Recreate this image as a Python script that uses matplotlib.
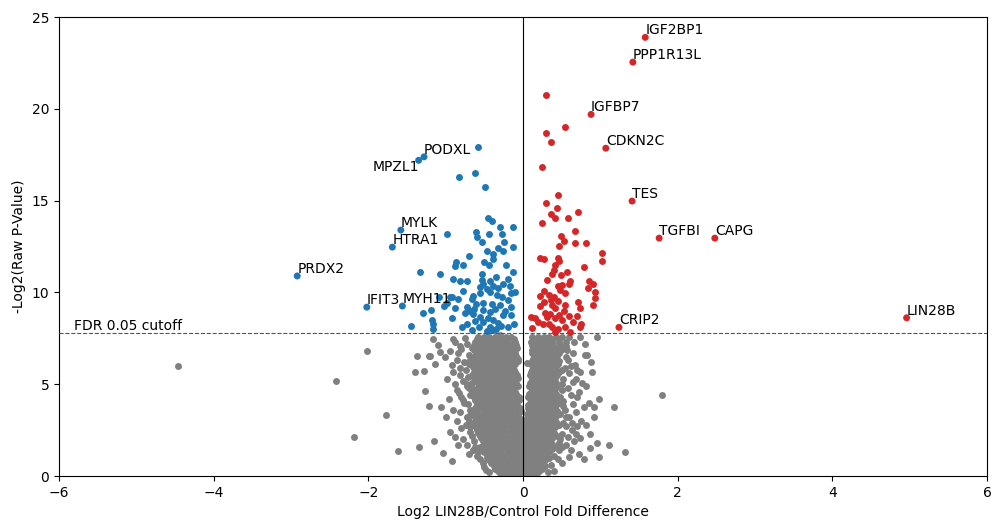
import matplotlib
matplotlib.use("Agg")
import matplotlib.pyplot as plt

# ---------------- data ----------------
fdr_cutoff = 7.8

label_names = ["IGF2BP1", "PPP1R13L", "IGFBP7", "CDKN2C", "TES", "TGFBI", "CAPG",
               "CRIP2", "LIN28B", "PODXL", "MPZL1", "MYLK", "HTRA1", "PRDX2",
               "IFIT3", "MYH11"]
label_x = [1.58, 1.42, 0.88, 1.07, 1.41, 1.76, 2.48, 1.24, 4.96, -1.28, -1.35,
           -1.58, -1.69, -2.92, -2.02, -1.56]
label_y = [23.9, 22.55, 19.7, 17.86, 14.98, 12.96, 12.96, 8.1, 8.62, 17.39, 17.2,
           13.4, 12.47, 10.9, 9.2, 9.26]
label_up = [True, True, True, True, True, True, True, True, True, True, False,
            True, True, True, True, True]

blue_pts = [(-0.58, 17.9), (-0.62, 16.5), (-0.83, 16.3), (-0.49, 15.74), (-0.45, 14.05),
            (-0.40, 13.9), (-0.44, 13.2), (-0.61, 13.3), (-0.30, 13.55), (-0.27, 13.2),
            (-0.13, 13.55), (-0.98, 13.2), (-0.59, 13.0), (-0.53, 12.75), (-0.25, 12.75),
            (-0.32, 12.4), (-0.47, 12.25), (-0.39, 12.1), (-0.26, 12.25), (-0.13, 12.5),
            (-0.70, 12.0), (-0.39, 11.8), (-0.50, 11.65), (-0.87, 11.65), (-0.88, 11.45),
            (-0.78, 11.5), (-0.44, 11.5), (-0.22, 11.5), (-1.07, 11.0), (-1.33, 11.1),
            (-0.53, 11.0), (-0.35, 10.85), (-0.91, 10.75), (-0.72, 10.6), (-0.53, 10.7),
            (-0.43, 10.6), (-0.19, 10.75), (-0.52, 10.45), (-0.39, 10.35), (-0.26, 10.45),
            (-0.17, 10.35), (-0.47, 10.2), (-0.32, 10.25), (-0.78, 10.1), (-0.43, 10.0),
            (-0.16, 9.95), (-0.56, 9.95), (-0.65, 9.8), (-0.34, 9.85), (-0.27, 9.75),
            (-0.92, 9.75), (-0.84, 9.65), (-0.19, 9.6), (-0.66, 9.65), (-0.52, 9.4),
            (-0.40, 9.35), (-0.61, 9.35), (-1.02, 9.25), (-0.72, 9.2), (-0.88, 9.15),
            (-0.36, 9.1), (-0.63, 9.1), (-0.52, 9.05), (-0.43, 8.95), (-0.75, 8.9),
            (-0.26, 8.75), (-0.16, 8.75), (-0.65, 8.8), (-0.56, 8.65), (-0.45, 8.6),
            (-0.39, 8.5), (-0.32, 8.35), (-0.52, 8.4), (-0.72, 8.3), (-0.79, 8.1),
            (-0.57, 8.1), (-0.43, 8.1), (-0.19, 8.1), (-0.66, 7.95), (-0.47, 7.9),
            (-0.39, 7.95), (-1.45, 8.2), (-1.29, 8.9), (-1.18, 8.5), (-1.19, 9.05),
            (-1.09, 9.75), (-0.98, 9.4), (-0.94, 9.75), (-1.16, 8.0), (-1.16, 8.3),
            (-0.82, 10.6), (-0.92, 8.6), (-0.30, 9.3), (-0.23, 9.0), (-0.35, 8.0),
            (-0.28, 8.2), (-0.12, 8.3), (-0.15, 9.2), (-0.10, 10.0), (-0.62, 8.45),
            (-0.68, 9.0), (-0.55, 10.3), (-0.13, 11.1)]

red_pts = [(0.30, 20.75), (0.54, 19.0), (0.30, 18.7), (0.36, 18.2), (0.25, 16.85),
           (0.45, 15.3), (0.30, 14.85), (0.44, 14.6), (0.36, 14.25), (0.41, 14.05),
           (0.58, 14.05), (0.71, 14.4), (0.25, 13.8), (0.67, 13.35), (0.49, 13.05),
           (0.53, 12.8), (0.81, 12.7), (0.67, 12.7), (0.47, 12.55), (1.02, 12.15),
           (1.02, 11.7), (0.22, 11.9), (0.27, 11.8), (0.45, 11.9), (0.47, 11.7),
           (0.41, 11.5), (0.79, 11.4), (0.40, 11.2), (0.57, 11.1), (0.38, 11.0),
           (0.49, 10.95), (0.31, 10.7), (0.61, 10.6), (0.59, 10.45), (0.45, 10.35),
           (0.50, 10.4), (0.91, 10.45), (0.84, 10.25), (0.93, 10.0), (0.27, 10.1),
           (0.48, 10.15), (0.54, 9.95), (0.34, 9.85), (0.22, 9.8), (0.40, 9.75),
           (0.93, 9.7), (0.27, 9.5), (0.45, 9.55), (0.71, 9.5), (0.22, 9.25),
           (0.38, 9.3), (0.54, 9.3), (0.91, 9.3), (0.41, 9.15), (0.74, 9.15),
           (0.28, 8.9), (0.35, 8.8), (0.53, 9.0), (0.47, 8.75), (0.59, 8.7),
           (0.70, 8.7), (0.10, 8.65), (0.16, 8.6), (0.31, 8.65), (0.41, 8.6),
           (0.26, 8.3), (0.12, 8.05), (0.38, 8.1), (0.45, 8.0), (0.54, 8.1),
           (0.61, 7.85), (0.74, 8.1), (0.75, 8.3), (0.41, 7.85), (0.85, 10.6),
           (0.20, 8.4), (0.33, 8.3), (0.64, 8.4), (0.50, 8.5), (0.36, 9.6)]

# gray cloud: rows of (y, x-values)
gray_left_y = [7.6, 7.3, 7.0, 6.7, 6.4, 6.1, 5.8, 5.5, 5.2, 4.9, 4.6, 4.3, 4.0, 3.7,
               3.4, 3.1, 2.8, 2.5, 2.2, 1.9, 1.6, 1.3, 1.0, 0.7, 0.4, 0.15,
               7.45, 7.15, 6.85, 6.55, 6.25, 5.95, 5.65, 5.35, 5.05, 4.75, 4.45, 4.15,
               3.85, 3.55, 3.25, 2.95, 2.65, 2.35, 2.05, 1.75, 1.45, 1.15, 0.85, 0.55,
               0.28, 0.05]
gray_left_x = [
    [-0.58, -0.50, -0.44, -0.36, -0.30, -0.22, -0.15],
    [-0.62, -0.54, -0.47, -0.40, -0.33, -0.26, -0.19, -0.11],
    [-0.66, -0.57, -0.50, -0.43, -0.36, -0.29, -0.22, -0.14, -0.08],
    [-0.60, -0.53, -0.46, -0.39, -0.32, -0.25, -0.18, -0.10],
    [-0.64, -0.56, -0.49, -0.42, -0.35, -0.28, -0.21, -0.13, -0.06],
    [-0.70, -0.59, -0.52, -0.45, -0.38, -0.31, -0.24, -0.17, -0.10],
    [-0.62, -0.55, -0.48, -0.41, -0.34, -0.27, -0.20, -0.12],
    [-0.66, -0.58, -0.51, -0.44, -0.37, -0.30, -0.23, -0.16, -0.08],
    [-0.61, -0.54, -0.47, -0.40, -0.33, -0.26, -0.19, -0.11],
    [-0.72, -0.57, -0.50, -0.43, -0.36, -0.29, -0.22, -0.15, -0.07],
    [-0.60, -0.53, -0.46, -0.39, -0.32, -0.25, -0.18, -0.10],
    [-0.64, -0.56, -0.49, -0.42, -0.35, -0.28, -0.21, -0.13, -0.05],
    [-0.59, -0.52, -0.45, -0.38, -0.31, -0.24, -0.16, -0.09],
    [-0.62, -0.55, -0.48, -0.41, -0.34, -0.27, -0.20, -0.12, -0.04],
    [-0.66, -0.58, -0.51, -0.44, -0.37, -0.30, -0.23, -0.15, -0.07],
    [-0.61, -0.54, -0.47, -0.40, -0.33, -0.26, -0.18, -0.10, -0.03],
    [-0.64, -0.57, -0.50, -0.43, -0.36, -0.29, -0.21, -0.13, -0.05],
    [-0.60, -0.53, -0.46, -0.39, -0.32, -0.24, -0.16, -0.08, -0.02],
    [-0.56, -0.49, -0.42, -0.35, -0.27, -0.19, -0.11, -0.04],
    [-0.52, -0.45, -0.38, -0.30, -0.22, -0.14, -0.06, -0.01],
    [-0.55, -0.48, -0.41, -0.33, -0.25, -0.17, -0.09, -0.02],
    [-0.50, -0.43, -0.36, -0.28, -0.20, -0.12, -0.04],
    [-0.46, -0.39, -0.31, -0.23, -0.15, -0.07, -0.01],
    [-0.42, -0.34, -0.26, -0.18, -0.10, -0.03],
    [-0.36, -0.29, -0.21, -0.13, -0.05],
    [-0.30, -0.22, -0.14, -0.06, -0.01],
    [-0.60, -0.53, -0.47, -0.40, -0.33, -0.26, -0.19, -0.12],
    [-0.64, -0.57, -0.50, -0.43, -0.36, -0.29, -0.22, -0.15, -0.09],
    [-0.63, -0.56, -0.49, -0.42, -0.35, -0.28, -0.21, -0.14],
    [-0.62, -0.53, -0.46, -0.39, -0.32, -0.25, -0.17, -0.09],
    [-0.66, -0.56, -0.49, -0.42, -0.35, -0.28, -0.21, -0.13, -0.07],
    [-0.65, -0.56, -0.49, -0.42, -0.35, -0.27, -0.20, -0.13],
    [-0.64, -0.52, -0.45, -0.38, -0.31, -0.24, -0.17, -0.10],
    [-0.63, -0.55, -0.48, -0.41, -0.34, -0.27, -0.20, -0.13, -0.06],
    [-0.66, -0.58, -0.51, -0.44, -0.37, -0.30, -0.23, -0.16, -0.09],
    [-0.63, -0.55, -0.48, -0.41, -0.34, -0.27, -0.20, -0.12],
    [-0.60, -0.52, -0.45, -0.38, -0.31, -0.24, -0.17, -0.09],
    [-0.62, -0.55, -0.48, -0.41, -0.34, -0.27, -0.19, -0.12, -0.05],
    [-0.60, -0.52, -0.45, -0.38, -0.31, -0.23, -0.16, -0.08],
    [-0.64, -0.51, -0.44, -0.37, -0.30, -0.23, -0.16, -0.08, -0.03],
    [-0.63, -0.57, -0.50, -0.43, -0.36, -0.29, -0.22, -0.14, -0.06],
    [-0.62, -0.54, -0.47, -0.40, -0.33, -0.25, -0.17, -0.09, -0.02],
    [-0.61, -0.53, -0.46, -0.39, -0.32, -0.25, -0.17, -0.09, -0.03],
    [-0.58, -0.50, -0.43, -0.35, -0.28, -0.20, -0.12, -0.05],
    [-0.54, -0.46, -0.38, -0.31, -0.23, -0.15, -0.08, -0.02],
    [-0.50, -0.42, -0.34, -0.26, -0.18, -0.10, -0.03],
    [-0.52, -0.45, -0.37, -0.29, -0.21, -0.13, -0.06],
    [-0.47, -0.40, -0.32, -0.24, -0.16, -0.08, -0.02],
    [-0.44, -0.35, -0.27, -0.19, -0.11, -0.04],
    [-0.38, -0.30, -0.22, -0.14, -0.07, -0.01],
    [-0.33, -0.25, -0.17, -0.09, -0.02],
    [-0.26, -0.18, -0.10, -0.03],
]
gray_right_y = [7.6, 7.3, 7.0, 6.7, 6.4, 6.1, 5.8, 5.5, 5.2, 4.9, 4.6, 4.3, 4.0, 3.7,
                3.4, 3.1, 2.8, 2.5, 2.2, 1.9, 1.6, 1.3, 1.0, 0.7, 0.4, 0.15,
                7.45, 7.15, 6.85, 6.55, 6.25, 5.95, 5.65, 5.35, 5.05, 4.75, 4.45, 4.15,
                3.85, 3.55, 3.25, 2.95, 2.65, 2.35, 2.05, 1.75, 1.45, 1.15, 0.85, 0.55,
                0.28, 0.05]
gray_right_x = [
    [0.12, 0.19, 0.27, 0.34, 0.42, 0.50],
    [0.10, 0.17, 0.24, 0.31, 0.38, 0.46, 0.55],
    [0.14, 0.21, 0.28, 0.35, 0.43, 0.52],
    [0.11, 0.18, 0.25, 0.32, 0.39, 0.47],
    [0.13, 0.20, 0.27, 0.34, 0.42],
    [0.10, 0.17, 0.24, 0.31, 0.38, 0.45],
    [0.12, 0.19, 0.26, 0.33, 0.41, 0.50],
    [0.09, 0.16, 0.23, 0.30, 0.37, 0.44],
    [0.11, 0.18, 0.25, 0.32, 0.40],
    [0.08, 0.15, 0.22, 0.29, 0.36, 0.44],
    [0.10, 0.17, 0.24, 0.31, 0.38],
    [0.07, 0.14, 0.21, 0.28, 0.35, 0.42],
    [0.09, 0.16, 0.23, 0.30, 0.37, 0.45],
    [0.06, 0.13, 0.20, 0.27, 0.34, 0.41],
    [0.05, 0.12, 0.19, 0.26, 0.33, 0.40, 0.48],
    [0.04, 0.11, 0.18, 0.25, 0.32, 0.39],
    [0.03, 0.10, 0.17, 0.24, 0.31, 0.38, 0.46],
    [0.02, 0.09, 0.16, 0.23, 0.30, 0.37],
    [0.02, 0.08, 0.15, 0.22, 0.29, 0.36, 0.44],
    [0.01, 0.07, 0.14, 0.21, 0.28, 0.35],
    [0.01, 0.07, 0.14, 0.21, 0.28, 0.35, 0.42],
    [0.01, 0.07, 0.13, 0.20, 0.27, 0.34],
    [0.01, 0.06, 0.13, 0.20, 0.27, 0.33],
    [0.01, 0.06, 0.12, 0.19, 0.26],
    [0.01, 0.06, 0.12, 0.18, 0.24],
    [0.01, 0.06, 0.12, 0.18],
    [0.14, 0.22, 0.30, 0.38, 0.46],
    [0.12, 0.18, 0.25, 0.32, 0.39, 0.48],
    [0.12, 0.18, 0.25, 0.32, 0.40, 0.49],
    [0.14, 0.21, 0.28, 0.36, 0.44],
    [0.11, 0.17, 0.24, 0.31, 0.38, 0.47],
    [0.13, 0.20, 0.27, 0.35, 0.42],
    [0.10, 0.16, 0.23, 0.30, 0.37, 0.46],
    [0.12, 0.19, 0.26, 0.33, 0.41],
    [0.09, 0.15, 0.22, 0.29, 0.36, 0.43],
    [0.11, 0.18, 0.25, 0.33, 0.41],
    [0.08, 0.14, 0.21, 0.28, 0.35, 0.43],
    [0.10, 0.17, 0.24, 0.32, 0.39],
    [0.07, 0.13, 0.20, 0.27, 0.34, 0.42],
    [0.08, 0.16, 0.23, 0.30, 0.37, 0.44],
    [0.07, 0.14, 0.21, 0.28, 0.35, 0.43],
    [0.06, 0.13, 0.20, 0.27, 0.34, 0.42],
    [0.05, 0.12, 0.19, 0.26, 0.33, 0.41],
    [0.05, 0.11, 0.18, 0.25, 0.32, 0.40],
    [0.04, 0.10, 0.17, 0.24, 0.31, 0.38],
    [0.04, 0.10, 0.17, 0.24, 0.31, 0.38],
    [0.04, 0.10, 0.16, 0.23, 0.30, 0.37],
    [0.03, 0.09, 0.16, 0.23, 0.30],
    [0.03, 0.09, 0.15, 0.22, 0.29],
    [0.03, 0.09, 0.15, 0.21, 0.28],
    [0.03, 0.09, 0.15, 0.21],
    [0.03, 0.09, 0.15],
]
gray_sparse = [(-4.46, 6.0), (-2.42, 5.17), (-2.18, 2.12), (-2.02, 6.8), (-1.77, 3.3),
               (-1.62, 1.36), (-1.34, 1.58), (-1.37, 6.54), (-1.22, 6.54), (-1.40, 5.66),
               (-1.28, 5.72), (-1.14, 6.1), (-1.27, 4.63), (-1.22, 3.8), (-1.15, 1.9),
               (-1.16, 7.45), (-1.10, 7.15), (-0.91, 7.45), (-1.07, 6.75), (-1.20, 6.55),
               (-1.01, 6.5), (-0.92, 6.05), (-0.91, 5.65), (-0.84, 6.7), (-0.81, 5.5),
               (-1.06, 3.75), (-0.91, 3.6), (-0.83, 4.5), (-0.78, 4.15), (-0.72, 3.2),
               (-1.03, 1.25), (-0.92, 0.8), (-0.78, 2.0), (-0.84, 1.7), (-0.65, 1.4),
               (-0.69, 2.65), (-0.66, 4.55), (-0.69, 6.3), (-0.75, 7.5), (-0.80, 6.9),
               (-0.74, 5.8), (-0.78, 5.2), (-0.70, 4.8), (-0.76, 4.0), (-0.68, 3.6),
               (-0.74, 2.8), (-0.66, 2.2), (-0.62, 1.6), (-0.60, 1.1), (-0.50, 0.5),
               (-0.44, 0.2), (-0.88, 5.0), (-0.86, 3.0), (-0.95, 2.4), (-0.30, 7.7),
               (-0.72, 7.2), (-0.70, 6.6), (-0.76, 6.2), (-0.71, 5.4), (-0.73, 5.0),
               (-0.68, 4.4), (-0.71, 3.9), (-0.69, 3.3), (-0.70, 3.0), (-0.68, 2.4),
               (-0.64, 1.9), (-0.58, 1.3), (-0.56, 0.9), (-0.48, 0.35), (-0.52, 0.7),
               (-0.82, 7.1), (-0.86, 6.3), (-0.82, 5.9), (-0.85, 4.7), (-0.80, 4.3),
               (-0.82, 3.5), (-0.80, 2.6), (-0.72, 1.7), (-0.70, 1.2), (-0.98, 5.3),
               (-0.96, 4.2), (-1.00, 3.2), (-0.88, 2.1), (-0.88, 7.3), (-0.94, 6.8),
               (0.05, 6.15), (0.80, 6.6), (0.96, 7.6), (0.89, 5.65), (0.76, 5.05),
               (0.98, 4.2), (0.92, 3.75), (1.18, 3.75), (0.92, 3.2), (0.63, 2.9),
               (0.74, 2.05), (0.96, 1.8), (1.11, 1.7), (1.32, 1.3), (0.87, 1.5),
               (0.98, 1.05), (0.79, 0.9), (0.50, 0.7), (0.59, 1.05), (0.21, 7.5),
               (0.57, 6.85), (0.67, 6.05), (0.59, 5.6), (0.50, 4.7), (0.70, 4.3),
               (0.79, 3.75), (0.54, 3.6), (0.63, 2.5), (0.47, 1.8), (0.74, 5.66),
               (0.83, 6.6), (1.80, 4.41), (0.55, 6.5), (0.62, 6.0), (0.68, 5.3),
               (0.58, 4.8), (0.72, 4.6), (0.52, 4.1), (0.65, 3.9), (0.60, 3.2),
               (0.75, 3.0), (0.55, 2.7), (0.68, 2.3), (0.50, 1.6), (0.62, 1.4),
               (0.72, 1.2), (0.45, 0.9), (0.40, 0.3), (0.66, 7.3), (0.74, 7.6),
               (0.60, 7.6), (0.56, 7.1), (0.58, 6.3), (0.54, 5.9), (0.52, 5.3),
               (0.50, 5.0), (0.48, 4.3), (0.52, 3.8), (0.55, 3.2), (0.52, 2.9),
               (0.50, 2.3), (0.48, 2.0), (0.46, 1.4), (0.40, 1.1), (0.36, 0.6),
               (0.32, 0.2), (0.64, 6.7), (0.70, 5.8), (0.64, 5.1), (0.62, 4.4),
               (0.68, 3.5), (0.70, 2.7), (0.58, 2.1), (0.56, 1.7), (0.66, 1.9),
               (0.82, 4.9), (0.85, 4.0), (0.82, 2.8), (0.86, 2.3), (0.80, 7.2),
               (0.88, 6.2)]

# ---------------- plot ----------------
gx, gy = [], []
for yv, xs in zip(gray_left_y, gray_left_x):
    gx += xs
    gy += [yv] * len(xs)
for yv, xs in zip(gray_right_y, gray_right_x):
    gx += xs
    gy += [yv] * len(xs)
gx += [p[0] for p in gray_sparse]
gy += [p[1] for p in gray_sparse]

fig = plt.figure(figsize=(9.92, 5.2), dpi=100)
ax = fig.add_axes([0.0595, 0.0846, 0.9355, 0.8824])

ms = 25
ax.scatter(gx, gy, s=ms, color="#808080", linewidths=0, zorder=2)
ax.scatter([p[0] for p in blue_pts], [p[1] for p in blue_pts], s=ms,
           color="#1f77b4", linewidths=0, zorder=3)
ax.scatter([p[0] for p in red_pts], [p[1] for p in red_pts], s=ms,
           color="#d62728", linewidths=0, zorder=3)

lab_colors = ["#d62728" if x > 0 else "#1f77b4" for x in label_x]
ax.scatter(label_x, label_y, s=ms, c=lab_colors, linewidths=0, zorder=3)
for name, x, y, up in zip(label_names, label_x, label_y, label_up):
    if up:
        ax.text(x, y, name, ha="left", va="bottom", fontsize=10, zorder=4)
    else:
        ax.text(x, y, name, ha="right", va="top", fontsize=10, zorder=4)

ax.axvline(0, color="black", linewidth=0.8, zorder=4)
ax.axhline(fdr_cutoff, color="#555555", linewidth=0.8, linestyle="--", zorder=4)
ax.text(-5.8, fdr_cutoff, "FDR 0.05 cutoff", ha="left", va="bottom", fontsize=10)

ax.set_xlim(-6, 6)
ax.set_ylim(0, 25)
ax.set_xticks([-6, -4, -2, 0, 2, 4, 6])
ax.set_yticks([0, 5, 10, 15, 20, 25])
ax.tick_params(labelsize=10)
ax.set_xlabel("Log2 LIN28B/Control Fold Difference", fontsize=10)
ax.set_ylabel("-Log2(Raw P-Value)", fontsize=10)

fig.savefig("out.png", dpi=100)
